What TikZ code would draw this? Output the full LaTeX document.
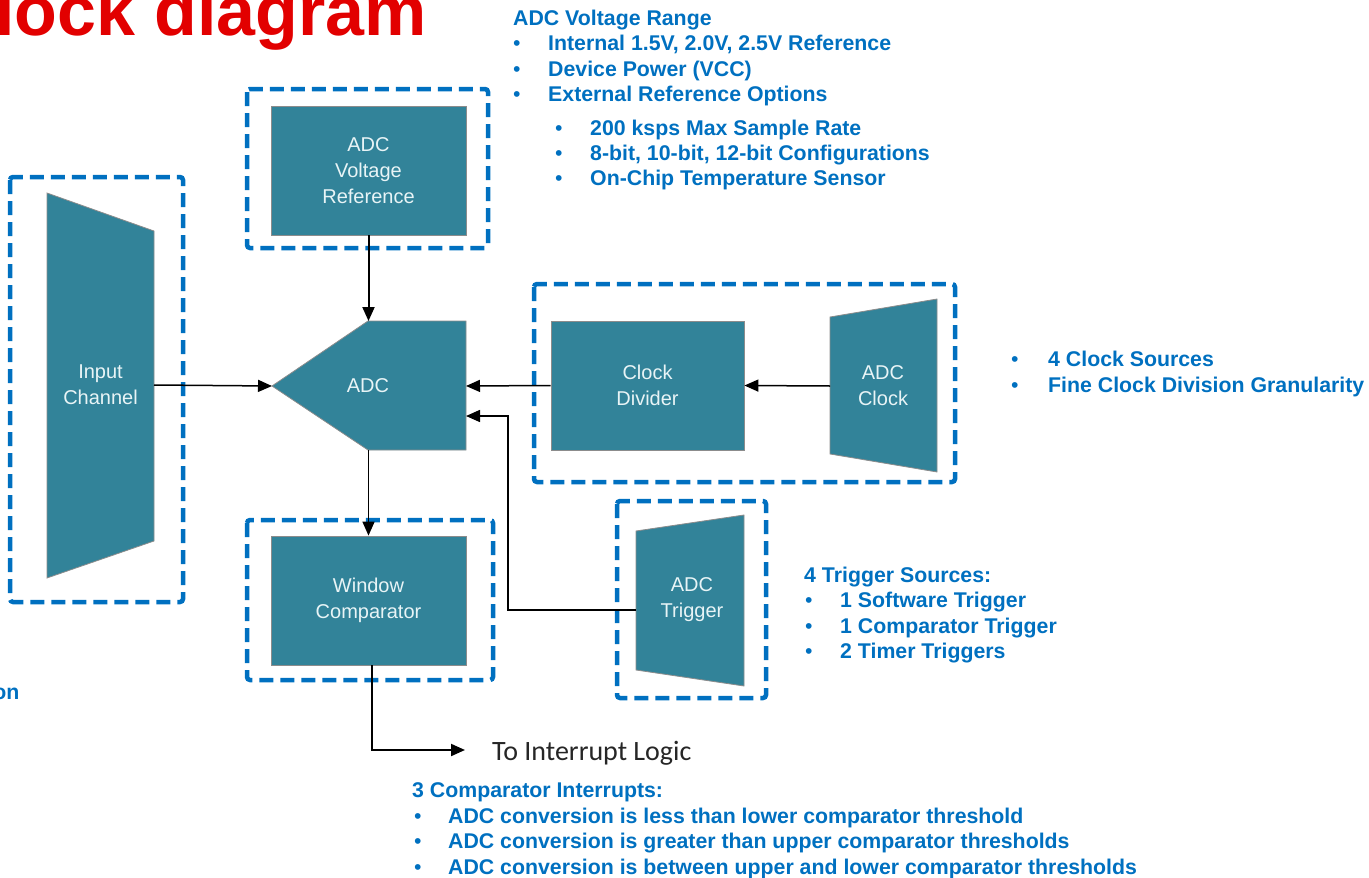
\documentclass[tikz,border=0pt]{standalone}
\usepackage{fontspec}
\setmainfont{Liberation Sans}
\newfontfamily\calib{Carlito}
\usetikzlibrary{arrows.meta}
\definecolor{teal1}{RGB}{50,131,153}
\definecolor{dashblue}{RGB}{0,112,192}
\definecolor{noteblue}{RGB}{0,112,192}
\definecolor{titlered}{RGB}{226,0,0}
\definecolor{blocktext}{RGB}{232,244,246}
\definecolor{edgegray}{RGB}{140,140,140}
\begin{document}
\begin{tikzpicture}[x=1pt,y=-1pt,
  dashbox/.style={draw=dashblue, line width=4.5pt, dash pattern=on 14pt off 7pt, rounded corners=3pt},
  blockfill/.style={fill=teal1, draw=edgegray, line width=0.8pt},
  block/.style={blockfill, minimum width=195pt, minimum height=129pt, inner sep=0pt, align=center, text=blocktext, font=\fontsize{20}{26}\selectfont},
  btext/.style={align=center, text=blocktext, font=\fontsize{20}{26}\selectfont, inner sep=0pt},
  conn/.style={draw=black, line width=1.5pt},
  arr/.style={conn, -{Triangle[length=14pt,width=12pt]}},
  note/.style={anchor=base west, inner sep=0pt, text=noteblue, font=\bfseries\fontsize{21.3}{25}\selectfont},
  bul/.style={anchor=base west, inner sep=0pt, text=noteblue, font=\fontsize{21.3}{25}\selectfont},
]
\useasboundingbox (0,0) rectangle (1369,878);

% title (cut at top)
\node[anchor=base west, inner sep=0pt, text=titlered, font=\bfseries\fontsize{70}{84}\selectfont] (title) at (-5,35) {lock diagram};
\node[note, anchor=base east] (on) at (19.5,699) {on};

% dashed frames
\draw[dashbox] (10,177) rectangle (183,602);
\draw[dashbox] (247,89) rectangle (488,248);
\draw[dashbox] (247,520) rectangle (493,680);
\draw[dashbox] (534,284) rectangle (955,482);
\draw[dashbox] (617,501) rectangle (766,698);

% Input channel trapezoid
\draw[blockfill] (47,193) -- (154,231) -- (154,541) -- (47,578) -- cycle;
\node[btext] (inch) at (100.5,385) {Input\\Channel};
\coordinate (inch-out) at (154,385);

% ADC pentagon
\draw[blockfill] (272,386) -- (368,321) -- (466,321) -- (466,450) -- (368,450) -- cycle;
\node[btext] (adc) at (368,386) {ADC};
\coordinate (adc-tip) at (272,386);
\coordinate (adc-top) at (368.5,321);
\coordinate (adc-bot) at (368.5,450);
\coordinate (adc-r1) at (466,386);
\coordinate (adc-r2) at (466,416);

% blocks
\node[block] (vref) at (368.5,170.5) {ADC\\Voltage\\Reference};
\node[block, minimum width=193pt] (cdiv) at (647.5,385.5) {Clock\\Divider};
\node[block] (wc) at (368.5,600.5) {Window\\Comparator};

% ADC clock trapezoid
\draw[blockfill] (830,317) -- (937,299) -- (937,472) -- (830,454) -- cycle;
\node[btext] (aclk) at (883,386) {ADC\\Clock};
\coordinate (aclk-out) at (830,386);

% ADC trigger trapezoid
\draw[blockfill] (636,531) -- (744,515) -- (744,686) -- (636,670) -- cycle;
\node[btext] (atrg) at (692,600) {ADC\\Trigger};
\coordinate (atrg-out) at (636,610);
\coordinate (trg-bend) at (508,610);

% connectors
\draw[arr] (inch-out) -- (adc-tip);
\draw[arr, line width=2pt] (vref.south) -- (adc-top);
\draw[arr] (cdiv.west) -- (adc-r1);
\draw[arr] (aclk-out) -- (cdiv.east);
\draw[arr] (atrg-out) -- (trg-bend) |- (adc-r2);
\draw[arr] (adc-bot) -- (wc.north);
\coordinate (wc-out) at (372,665);
\coordinate (intr) at (465,750);
\draw[arr, line width=2pt] (wc-out) |- (intr);
\node[anchor=base west, inner sep=0pt, font=\calib\fontsize{28}{32}\selectfont, text=black!85] (tilog) at (492,760) {To Interrupt Logic};

% voltage range notes
\node[note] (vr0) at (513,25) {ADC Voltage Range};
\node[bul] (vb1) at (513,50) {•};
\node[note] (vr1) at (548,50) {Internal 1.5V, 2.0V, 2.5V Reference};
\node[bul] (vb2) at (513,76) {•};
\node[note] (vr2) at (548,76) {Device Power (VCC)};
\node[bul] (vb3) at (513,101) {•};
\node[note] (vr3) at (548,101) {External Reference Options};
\node[bul] (sb1) at (555,135) {•};
\node[note] (sr1) at (590,135) {200 ksps Max Sample Rate};
\node[bul] (sb2) at (555,160) {•};
\node[note] (sr2) at (590,160) {8-bit, 10-bit, 12-bit Configurations};
\node[bul] (sb3) at (555,185) {•};
\node[note] (sr3) at (590,185) {On-Chip Temperature Sensor};

% clock notes
\node[bul] (cb1) at (1011,366) {•};
\node[note] (cn1) at (1048,366) {4 Clock Sources};
\node[bul] (cb2) at (1011,392) {•};
\node[note] (cn2) at (1048,392) {Fine Clock Division Granularity};

% trigger notes
\node[note] (tn0) at (804,582) {4 Trigger Sources:};
\node[bul] (tb1) at (805,607) {•};
\node[note] (tn1) at (840,607) {1 Software Trigger};
\node[bul] (tb2) at (805,633) {•};
\node[note] (tn2) at (840,633) {1 Comparator Trigger};
\node[bul] (tb3) at (805,658) {•};
\node[note] (tn3) at (840,658) {2 Timer Triggers};

% interrupt notes
\node[note] (in0) at (412,797) {3 Comparator Interrupts:};
\node[bul] (ib1) at (414,823) {•};
\node[note] (in1) at (448,823) {ADC conversion is less than lower comparator threshold};
\node[bul] (ib2) at (414,848) {•};
\node[note] (in2) at (448,848) {ADC conversion is greater than upper comparator thresholds};
\node[bul] (ib3) at (414,874) {•};
\node[note] (in3) at (448,874) {ADC conversion is between upper and lower comparator thresholds};
\end{tikzpicture}
\end{document}
